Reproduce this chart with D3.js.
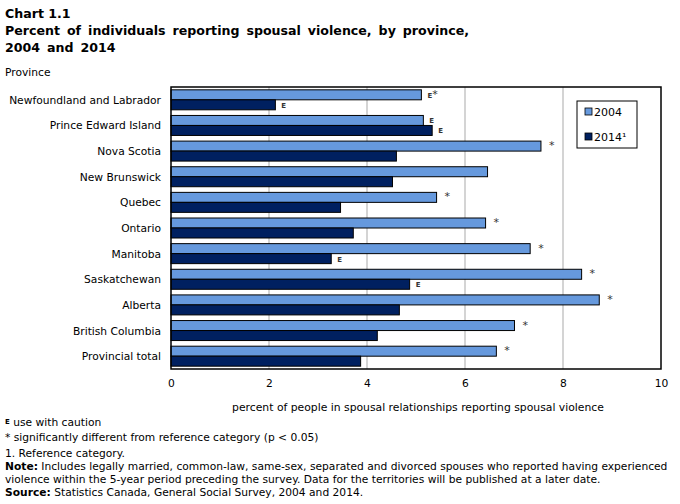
<!DOCTYPE html>
<html><head><meta charset="utf-8">
<script src="https://cdn.jsdelivr.net/npm/d3@7"></script>
<style>
body{margin:0;background:#fff;}
text{font-family:"DejaVu Sans",Verdana,sans-serif;fill:#000;}
</style></head>
<body>
<svg id="chart" width="680" height="504"></svg>
<script>
const categories = ["Newfoundland and Labrador","Prince Edward Island","Nova Scotia","New Brunswick","Quebec","Ontario","Manitoba","Saskatchewan","Alberta","British Columbia","Provincial total"];
const values2004 = [5.11,5.15,7.55,6.46,5.42,6.42,7.33,8.38,8.74,7.01,6.64];
const values2014 = [2.13,5.33,4.60,4.52,3.46,3.72,3.27,4.87,4.66,4.21,3.87];
const flags2004 = ["E*","E","*","","*","*","*","*","*","*","*"];
const flags2014 = ["E","E","","","","","E","E","","",""];
const seriesNames = ["2004","2014"];
const seriesLegend = ["2004","2014¹"];
const xTicks = [0,2,4,6,8,10];
const colors = ["#6699dd","#002060"];

(function(){
const svg = d3.select("#chart");
const pL = 171, pR = 661, pT = 87, pB = 369;

const x = d3.scaleLinear().domain([0,10]).range([pL,pR]);
const y = d3.scaleBand().domain(categories).range([pT,pB]).paddingInner(0.22).paddingOuter(0.11);
const ys = d3.scaleBand().domain(seriesNames).range([0,y.bandwidth()]);

// Titles
svg.append("text").attr("x",5).attr("y",18).attr("font-size","12.6px").attr("font-weight","bold").text("Chart 1.1");
svg.append("text").attr("x",5).attr("y",35).attr("font-size","12.6px").attr("font-weight","bold").attr("word-spacing","2.6px").text("Percent of individuals reporting spousal violence, by province,");
svg.append("text").attr("x",5).attr("y",52).attr("font-size","12.6px").attr("font-weight","bold").attr("word-spacing","2.6px").text("2004 and 2014");
svg.append("text").attr("x",5).attr("y",76).attr("font-size","10.7px").text("Province");

// gridlines
svg.append("g").selectAll("line").data(xTicks.filter(d=>d>0&&d<10)).join("line")
  .attr("x1",d=>x(d)).attr("x2",d=>x(d)).attr("y1",pT).attr("y2",pB)
  .attr("stroke","#bdbdbd").attr("stroke-width",1.3);

// bars
const data = categories.map((c,i)=>({c, v:[values2004[i],values2014[i]], f:[flags2004[i],flags2014[i]]}));
const groups = svg.append("g").selectAll("g").data(data).join("g")
  .attr("transform",d=>`translate(0,${y(d.c)})`);
seriesNames.forEach((s,si)=>{
  groups.append("rect")
    .attr("x",x(0)).attr("y",ys(s)).attr("width",d=>x(d.v[si])-x(0)).attr("height",ys.bandwidth())
    .attr("fill",colors[si]).attr("stroke","#000").attr("stroke-width",1);
  const fl = groups.append("text").attr("y",ys(s)+ys.bandwidth()/2+4);
  fl.each(function(d){
    const t = d3.select(this);
    const f = d.f[si];
    if(!f) return;
    let xx = x(d.v[si]) + 6;
    if(f.startsWith("E")){
      t.append("tspan").attr("x",xx).attr("dy",-1).attr("font-size","7px").attr("font-weight","bold").attr("fill","#333").text("E");
      if(f.includes("*")) t.append("tspan").attr("dy",0).attr("font-size","11px").attr("fill","#333").text("*");
    } else {
      t.append("tspan").attr("x",xx+2).attr("dy",-1).attr("font-size","11px").attr("fill","#333").text("*");
    }
  });
});

// frame
svg.append("rect").attr("x",pL).attr("y",pT).attr("width",pR-pL).attr("height",pB-pT)
  .attr("fill","none").attr("stroke","#000").attr("stroke-width",1.5);

// category labels
svg.append("g").selectAll("text").data(categories).join("text")
  .attr("x",161).attr("y",d=>y(d)+y.bandwidth()/2+4).attr("text-anchor","end").attr("font-size","10.7px").text(d=>d);

// x axis
const xAxis = d3.axisBottom(x).tickValues(xTicks).tickSize(0).tickPadding(10).tickFormat(d3.format("d"));
const ga = svg.append("g").attr("transform",`translate(0,${pB})`).call(xAxis);
ga.select(".domain").remove();
ga.selectAll("text").attr("font-size","10.7px").attr("font-family","DejaVu Sans").attr("fill","#000");

svg.append("text").attr("x",(pL+pR)/2+2).attr("y",411).attr("text-anchor","middle").attr("font-size","10.8px")
  .text("percent of people in spousal relationships reporting spousal violence");

// legend
const lg = svg.append("g");
lg.append("rect").attr("x",577).attr("y",101).attr("width",60).attr("height",47).attr("fill","#fff").attr("stroke","#000").attr("stroke-width",1);
seriesLegend.forEach((s,i)=>{
  const yy = 112 + i*25;
  lg.append("rect").attr("x",585).attr("y",yy-4).attr("width",7).attr("height",7).attr("fill",colors[i]).attr("stroke","#000").attr("stroke-width",0.8);
  lg.append("text").attr("x",594).attr("y",yy+4).attr("font-size","11px").text(s);
});

// footnotes
const fn = svg.append("g").attr("font-size","10.7px");
const t1 = fn.append("text").attr("x",5).attr("y",426);
t1.append("tspan").attr("font-size","7px").attr("font-weight","bold").attr("dy",-2).text("E");
t1.append("tspan").attr("dy",2).text(" use with caution");
fn.append("text").attr("x",5).attr("y",441).text("* significantly different from reference category (p < 0.05)");
fn.append("text").attr("x",5).attr("y",457).text("1. Reference category.");
const n1 = fn.append("text").attr("x",5).attr("y",470);
n1.append("tspan").attr("font-weight","bold").text("Note:");
n1.append("tspan").text(" Includes legally married, common-law, same-sex, separated and divorced spouses who reported having experienced");
fn.append("text").attr("x",5).attr("y",483).text("violence within the 5-year period preceding the survey. Data for the territories will be published at a later date.");
const s1 = fn.append("text").attr("x",5).attr("y",496);
s1.append("tspan").attr("font-weight","bold").text("Source:");
s1.append("tspan").text(" Statistics Canada, General Social Survey, 2004 and 2014.");
})();
</script>
</body></html>
